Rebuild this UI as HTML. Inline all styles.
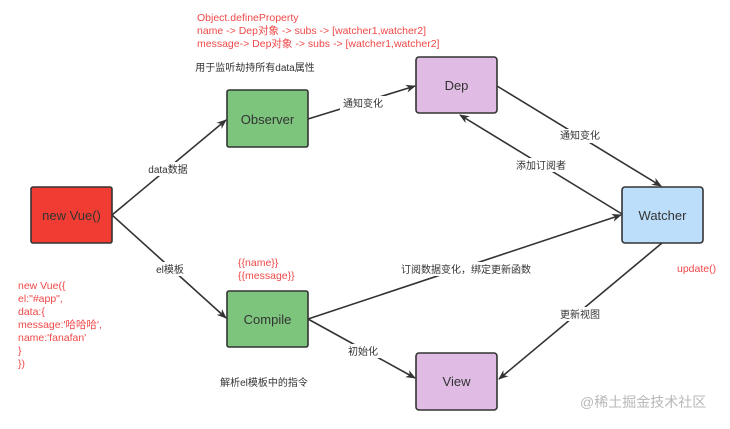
<!DOCTYPE html>
<html><head><meta charset="utf-8"><style>
body{margin:0;background:#fff;}
svg text{font-family:"Liberation Sans","Noto Sans CJK SC",sans-serif;}
</style></head><body>
<svg width="730" height="424" viewBox="0 0 730 424" xmlns="http://www.w3.org/2000/svg">
<defs><marker id="a" markerWidth="10" markerHeight="10" refX="9" refY="5" orient="auto" markerUnits="userSpaceOnUse"><path d="M0,1 L10,5 L0,9 L3,5 Z" fill="#333"/></marker></defs>
<g stroke="#333" stroke-width="1.6" fill="none" marker-end="url(#a)">
<line x1="112" y1="215" x2="226" y2="120"/>
<line x1="112" y1="215" x2="226" y2="318"/>
<line x1="308" y1="119" x2="415" y2="86"/>
<line x1="497" y1="86" x2="661" y2="186"/>
<line x1="622" y1="214" x2="460" y2="115"/>
<line x1="308" y1="319" x2="621" y2="215"/>
<line x1="308" y1="319" x2="415" y2="378"/>
<line x1="662" y1="243" x2="499" y2="379"/>
</g>
<g stroke="#333" stroke-width="1.6">
<rect x="31" y="187" width="81" height="56" rx="2" fill="#f03c32"/>
<rect x="227" y="90" width="81" height="57" rx="2" fill="#7dc47d"/>
<rect x="416" y="57" width="81" height="56" rx="3" fill="#e0bce4"/>
<rect x="622" y="187" width="81" height="56" rx="3" fill="#bcdefa"/>
<rect x="227" y="291" width="81" height="56" rx="2" fill="#7dc47d"/>
<rect x="416" y="353" width="81" height="57" rx="3" fill="#e0bce4"/>
</g>
<g font-size="13" fill="#333" text-anchor="middle">
<text x="71.5" y="220">new Vue()</text>
<text x="267.5" y="124">Observer</text>
<text x="456.5" y="90">Dep</text>
<text x="662.5" y="220">Watcher</text>
<text x="267.5" y="324">Compile</text>
<text x="456.5" y="386">View</text>
</g>
<g font-size="10" fill="#333" text-anchor="middle">
<rect x="140" y="162" width="56" height="14" fill="#fff"/><text x="168" y="173">data数据</text>
<rect x="148" y="262" width="44" height="14" fill="#fff"/><text x="170" y="273">el模板</text>
<rect x="340" y="96" width="46" height="14" fill="#fff"/><text x="363" y="107">通知变化</text>
<rect x="557" y="129" width="46" height="14" fill="#fff"/><text x="580" y="139">通知变化</text>
<rect x="513" y="158" width="56" height="14" fill="#fff"/><text x="541" y="169">添加订阅者</text>
<rect x="396" y="262" width="140" height="14" fill="#fff"/><text x="466" y="273">订阅数据变化，绑定更新函数</text>
<rect x="344" y="344" width="38" height="14" fill="#fff"/><text x="363" y="355">初始化</text>
<rect x="557" y="307" width="46" height="14" fill="#fff"/><text x="580" y="318">更新视图</text>
<text x="255" y="71">用于监听劫持所有data属性</text>
<text x="264" y="386">解析el模板中的指令</text>
</g>
<g font-size="10.5" fill="#f04848">
<text x="197" y="21">Object.defineProperty</text>
<text x="197" y="34">name -&gt; Dep对象 -&gt; subs -&gt; [watcher1,watcher2]</text>
<text x="197" y="47">message-&gt; Dep对象 -&gt; subs -&gt; [watcher1,watcher2]</text>
<text x="238" y="266">{{name}}</text>
<text x="238" y="279">{{message}}</text>
<text x="677" y="272">update()</text>
<text x="18" y="289">new Vue({</text>
<text x="18" y="302">el:"#app",</text>
<text x="18" y="315">data:{</text>
<text x="18" y="328">message:'哈哈哈',</text>
<text x="18" y="341">name:'fanafan'</text>
<text x="18" y="354">}</text>
<text x="18" y="367">})</text>
</g>
<text x="580" y="407" font-size="14" fill="#b8b8b8">@稀土掘金技术社区</text>
</svg>
</body></html>
